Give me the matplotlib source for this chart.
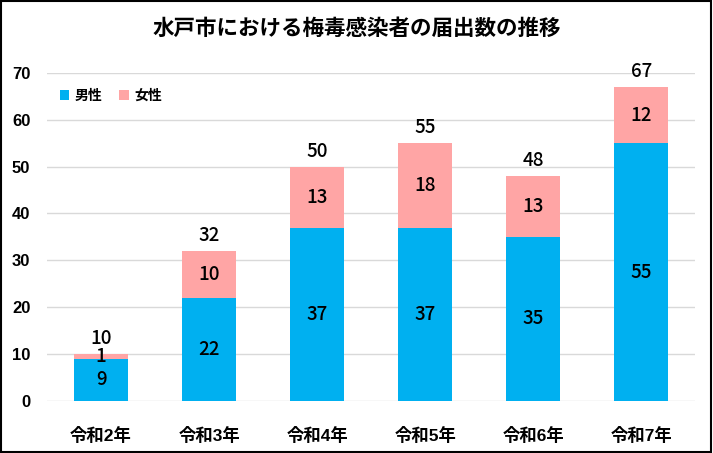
import numpy as np
import matplotlib.pyplot as plt
from matplotlib.patches import Rectangle

plt.rcParams['font.family'] = ['Liberation Sans', 'Noto Sans CJK JP', 'DejaVu Sans']

# data
years = ['令和2年', '令和3年', '令和4年', '令和5年', '令和6年', '令和7年']
male = [9, 22, 37, 37, 35, 55]
female = [1, 10, 13, 18, 13, 12]
total = [m + f for m, f in zip(male, female)]

c_male = '#00B0F0'
c_female = '#FFA5A5'
num_font = ['Noto Sans CJK JP', 'DejaVu Sans']

fig = plt.figure(figsize=(7.13, 4.53), dpi=100)
ax = fig.add_axes([0.066, 0.115, 0.909, 0.724])

x = np.arange(len(years))
ax.bar(x, male, width=0.5, color=c_male, label='男性', zorder=2)
ax.bar(x, female, width=0.5, bottom=male, color=c_female, label='女性', zorder=2)

# labels
for i in range(len(years)):
    ax.text(x[i], male[i] / 2, str(male[i]), ha='center', va='center',
            fontsize=13.5, family=num_font, fontweight='medium', zorder=3)
    ax.text(x[i], male[i] + female[i] / 2, str(female[i]), ha='center', va='center',
            fontsize=13.5, family=num_font, fontweight='medium', zorder=3)
    ax.annotate(str(total[i]), (x[i], total[i]), xytext=(0, 11), textcoords='offset points',
                ha='center', va='center', fontsize=13.5, family=num_font, fontweight='medium')

ax.set_xlim(-0.5, len(years) - 0.5)
ax.set_ylim(0, 70)
ax.set_yticks(range(0, 71, 10))
ax.yaxis.grid(True, color='#D9D9D9', linewidth=1, zorder=0)
ax.set_axisbelow(True)
for s in ax.spines.values():
    s.set_visible(False)
ax.tick_params(axis='both', length=0)
ax.tick_params(axis='y', pad=12, labelsize=12)
ax.tick_params(axis='x', pad=19, labelsize=12.5)
ax.set_xticks(x)
ax.set_xticklabels(years, fontweight='bold')
for lb in ax.get_yticklabels():
    lb.set_fontweight('bold')

fig.text(0.5, 0.934, '水戸市における梅毒感染者の届出数の推移', ha='center', va='center',
         fontsize=15.5, fontweight='bold')

ax.legend(loc='upper left', bbox_to_anchor=(0.0, 0.99), ncol=2, frameon=False,
          handlelength=0.7, handleheight=0.7, handletextpad=0.4, columnspacing=1.2,
          prop={'size': 10, 'weight': 'bold'})

fig.patches.append(Rectangle((0.002, 0.003), 0.995, 0.994, transform=fig.transFigure,
                             fill=False, edgecolor='black', linewidth=1.5))

fig.savefig('out.png', dpi=100)
